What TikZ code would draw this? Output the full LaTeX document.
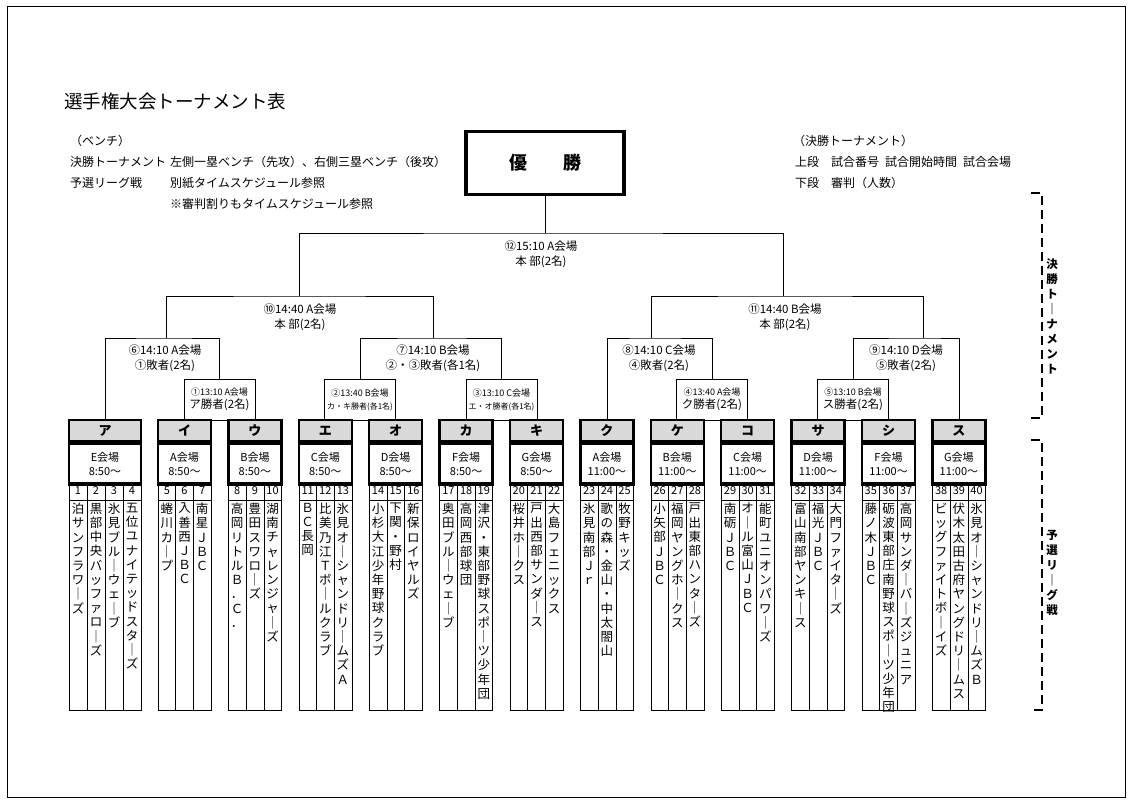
\documentclass[tikz,border=0pt]{standalone}
\usepackage{fontspec}
\setmainfont{Noto Sans CJK JP}
\usetikzlibrary{positioning}
\definecolor{hdgray}{gray}{0.85}
% vertical text: one character per line
\def\vst#1{\ifx#1\relax\else#1\par\expandafter\vst\fi}
\newcommand\vname[1]{\expandafter\vst#1\relax}
\tikzset{
  lbl/.style={align=center,inner sep=0pt,font=\fontsize{11.5}{15}\selectfont},
  small/.style={draw,line width=1pt,align=center,inner sep=0pt,minimum width=71,minimum height=41,font=\fontsize{9}{13}\selectfont},
  hd/.style={draw,line width=2.5pt,fill=hdgray,minimum height=21,inner sep=0pt,font=\bfseries\fontsize{13}{13}\selectfont},
  venue/.style={draw,line width=2.5pt,minimum height=41,inner sep=0pt,align=center,font=\fontsize{11}{14}\selectfont},
  num/.style={inner sep=0pt,font=\fontsize{11}{11}\selectfont},
  team/.style={anchor=north,inner sep=0pt,text width=14pt,align=center,font=\fontsize{12.5}{14.2}\selectfont},
  legend/.style={anchor=west,inner sep=0pt,font=\fontsize{12}{12}\selectfont},
  side/.style={dash pattern=on 9pt off 5pt,line width=2.5pt},
}
\begin{document}
\begin{tikzpicture}[x=1pt,y=-1pt]
  \useasboundingbox (0,0) rectangle (1132,802);
  \draw[line width=1pt] (7,7) rectangle (1125,797);

  \node[anchor=west,inner sep=0pt,font=\fontsize{18.5}{18.5}\selectfont] (title) at (64,101) {選手権大会トーナメント表};
  \node[legend] (b0) at (70,141) {（ベンチ）};
  \node[legend] (b1) at (70,162) {決勝トーナメント};
  \node[legend] (b2) at (170,162) {左側一塁ベンチ（先攻）、右側三塁ベンチ（後攻）};
  \node[legend] (b3) at (70,183) {予選リーグ戦};
  \node[legend] (b4) at (170,183) {別紙タイムスケジュール参照};
  \node[legend] (b5) at (170,204) {※審判割りもタイムスケジュール参照};
  \node[legend] (r0) at (793,141) {（決勝トーナメント）};
  \node[legend] (r1) at (795,162) {上段\quad 試合番号\enspace 試合開始時間\enspace 試合会場};
  \node[legend] (r2) at (795,183) {下段\quad 審判（人数）};

  \node[draw,line width=3.5pt,minimum width=158,minimum height=63,font=\bfseries\fontsize{18}{18}\selectfont] (win) at (545,163) {優\qquad 勝};

  % groups
  \foreach \i/\g/\v/\t in {0/ア/E/8:50,1/イ/A/8:50,2/ウ/B/8:50,3/エ/C/8:50,4/オ/D/8:50,5/カ/F/8:50,6/キ/G/8:50,
      7/ク/A/11:00,8/ケ/B/11:00,9/コ/C/11:00,10/サ/D/11:00,11/シ/F/11:00,12/ス/G/11:00}{
    \pgfmathsetmacro\L{\i==0 ? 69 : 158+70.4*(\i-1)}
    \pgfmathsetmacro\W{\i==0 ? 72 : 53}
    \node[hd,minimum width=\W] (g\i) at ({\L+\W/2},430.5) {\g};
    \node[venue,minimum width=\W,below=0pt of g\i] (v\i) {\v 会場\\\t 〜};
    \draw (\L,482) rectangle ++(\W,228);
    \draw (\L,500) -- ++(\W,0);
  }

  % teams
  \foreach \n/\name in {1/泊サンフラワ｜ズ,2/黒部中央バッファロ｜ズ,3/氷見ブル｜ウェ｜ブ,4/五位ユナイテッドスタ｜ズ,
      5/蜷川カ｜プ,6/入善西ＪＢＣ,7/南星ＪＢＣ,8/高岡リトルＢ．Ｃ．,9/豊田スワロ｜ズ,10/湖南チャレンジャ｜ズ,
      11/ＢＣ長岡,12/比美乃江Ｔボ｜ルクラブ,13/氷見オ｜シャンドリ｜ムズＡ,14/小杉大江少年野球クラブ,15/下関・野村,
      16/新保ロイヤルズ,17/奥田ブル｜ウェ｜ブ,18/高岡西部球団,19/津沢・東部野球スポ｜ツ少年団,20/桜井ホ｜クス,
      21/戸出西部サンダ｜ス,22/大島フェニックス,23/氷見南部Ｊｒ,24/歌の森・金山・中太閤山,25/牧野キッズ,
      26/小矢部ＪＢＣ,27/福岡ヤングホ｜クス,28/戸出東部ハンタ｜ズ,29/南砺ＪＢＣ,30/オ｜ル富山ＪＢＣ,
      31/能町ユニオンパワ｜ズ,32/富山南部ヤンキ｜ス,33/福光ＪＢＣ,34/大門ファイタ｜ズ,35/藤ノ木ＪＢＣ,
      36/砺波東部庄南野球スポ｜ツ少年団,37/高岡サンダ｜バ｜ズジュニア,38/ビッグファイトボ｜イズ,
      39/伏木太田古府ヤングドリ｜ムス,40/氷見オ｜シャンドリ｜ムズＢ}{
    \pgfmathsetmacro\cw{\n<5 ? 18 : 17.67}
    \pgfmathsetmacro\x{\n<5 ? 60+18*\n : 158+70.4*floor((\n-5)/3)+8.83+17.67*mod(\n-5,3)}
    \draw ({\x-\cw/2},482) -- ({\x-\cw/2},710);
    \node[num] (n\n) at (\x,491) {\n};
    \node[team] (t\n) at (\x,503) {\vname{\name}};
  }

  % first-round boxes
  \node[small] (m1) at (219.5,399.5) {①13:10 A会場\\{\fontsize{11.5}{13}\selectfont ア勝者(2名)}};
  \node[small] (m2) at (360,399.5) {②13:40 B会場\\{\fontsize{8}{10}\selectfont カ・キ勝者(各1名)}};
  \node[small] (m3) at (501.5,399.5) {③13:10 C会場\\{\fontsize{8}{10}\selectfont エ・オ勝者(各1名)}};
  \node[small] (m4) at (712,399.5) {④13:40 A会場\\{\fontsize{11.5}{13}\selectfont ク勝者(2名)}};
  \node[small] (m5) at (853,399.5) {⑤13:10 B会場\\{\fontsize{11.5}{13}\selectfont ス勝者(2名)}};

  % bracket points
  \coordinate (c6) at (166,338);
  \coordinate (c7) at (433,338);
  \coordinate (c8) at (651,338);
  \coordinate (c9) at (923,338);
  \coordinate (c10) at (299,296);
  \coordinate (c11) at (783,296);
  \coordinate (c12) at (545,233);

  \draw (g0.north) |- (c6) -| (m1.north);
  \draw (m2.north) |- (c7) -| (m3.north);
  \draw (g7.north) |- (c8) -| (m4.north);
  \draw (m5.north) |- (c9) -| (g12.north);
  \draw (c6) |- (c10) -| (c7);
  \draw (c8) |- (c11) -| (c9);
  \draw (c10) |- (c12) -| (c11);
  \draw (win.south) -- (c12);

  \node[lbl] (l6) at (165,358) {⑥14:10 A会場\\①敗者(2名)};
  \node[lbl] (l7) at (433,358) {⑦14:10 B会場\\②・③敗者(各1名)};
  \node[lbl] (l8) at (659,358) {⑧14:10 C会場\\④敗者(2名)};
  \node[lbl] (l9) at (906,358) {⑨14:10 D会場\\⑤敗者(2名)};
  \node[lbl] (l10) at (300,317) {⑩14:40 A会場\\本 部(2名)};
  \node[lbl] (l11) at (785,317) {⑪14:40 B会場\\本 部(2名)};
  \node[lbl] (l12) at (541,254) {⑫15:10 A会場\\本 部(2名)};

  % side brackets
  \draw[side] (1031,193) -- (1042,193) -- (1042,418) -- (1031,418);
  \draw[side] (1031,440) -- (1042,440) -- (1042,710) -- (1031,710);
  \node[team,font=\bfseries\fontsize{11.5}{15}\selectfont] (s1) at (1052,258) {\vname{決勝ト｜ナメント}};
  \node[team,font=\bfseries\fontsize{11.5}{15}\selectfont] (s2) at (1052,530) {\vname{予選リ｜グ戦}};
\end{tikzpicture}
\end{document}
